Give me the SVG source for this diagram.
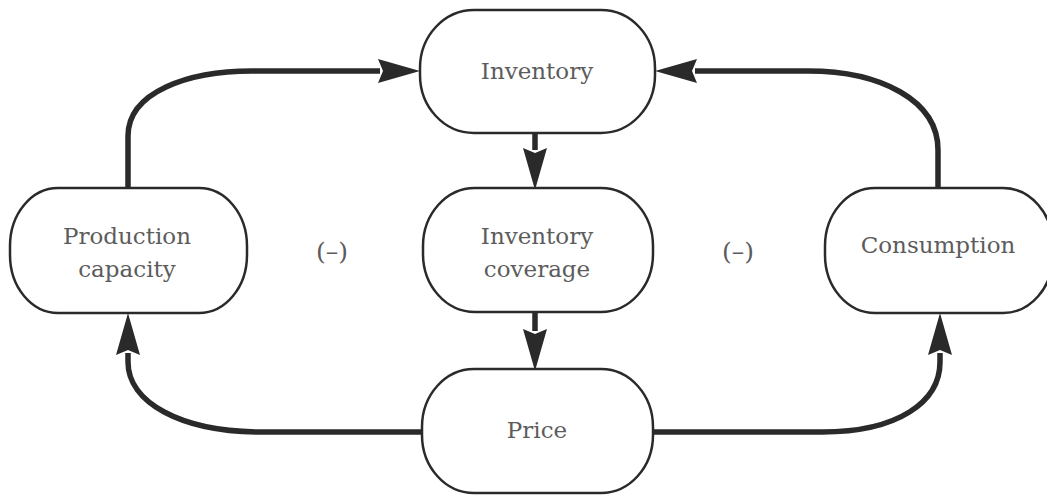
<svg xmlns="http://www.w3.org/2000/svg" width="1047" height="498" viewBox="0 0 1047 498">
<style>
.node rect{fill:#fff;stroke:#2a2a2a;stroke-width:2.5}
.node text,.lbl{font-family:"DejaVu Serif","Liberation Serif",serif;font-size:23px;fill:#5c5c5c;text-anchor:middle}
.lbl{font-size:25px}
.conn path{fill:none;stroke:#2a2a2a;stroke-width:5.5;marker-end:url(#ah)}
</style>
<defs>
<marker id="ah" markerUnits="userSpaceOnUse" markerWidth="42" markerHeight="24" viewBox="0 0 42 24" refX="2" refY="12" orient="auto">
<path d="M0,0 L42,12 L0,24 L5,12 z" fill="#2a2a2a"/>
</marker>
</defs>
<rect width="1047" height="498" fill="#fff"/>
<g id="connectors" class="conn">
<path d="M128,188 V136 C128,92 188,71 252,71 H380"/>
<path d="M938,188 V150 C938,100 880,71 808,71 H695"/>
<path d="M535,133 V150"/>
<path d="M535,312 V331"/>
<path d="M422,432 H262 C180,432 128,402 128,362 V353"/>
<path d="M653,432 H822 C898,432 940,402 940,362 V353"/>
</g>
<g id="inventory" class="node">
<rect x="420" y="10" width="235" height="123" rx="54" ry="58"/>
<text x="537" y="79">Inventory</text>
</g>
<g id="coverage" class="node">
<rect x="423" y="188" width="230" height="124" rx="52" ry="58"/>
<text x="537" y="244">Inventory</text>
<text x="537" y="277">coverage</text>
</g>
<g id="price" class="node">
<rect x="422" y="369" width="231" height="124" rx="52" ry="58"/>
<text x="537" y="438">Price</text>
</g>
<g id="production" class="node">
<rect x="10" y="188" width="237" height="125" rx="48" ry="58"/>
<text x="127" y="244">Production</text>
<text x="127" y="277">capacity</text>
</g>
<g id="consumption" class="node">
<rect x="825" y="188" width="228" height="125" rx="50" ry="58"/>
<text x="938" y="253">Consumption</text>
</g>
<text class="lbl" x="332" y="260">(–)</text>
<text class="lbl" x="738" y="260">(–)</text>
</svg>
